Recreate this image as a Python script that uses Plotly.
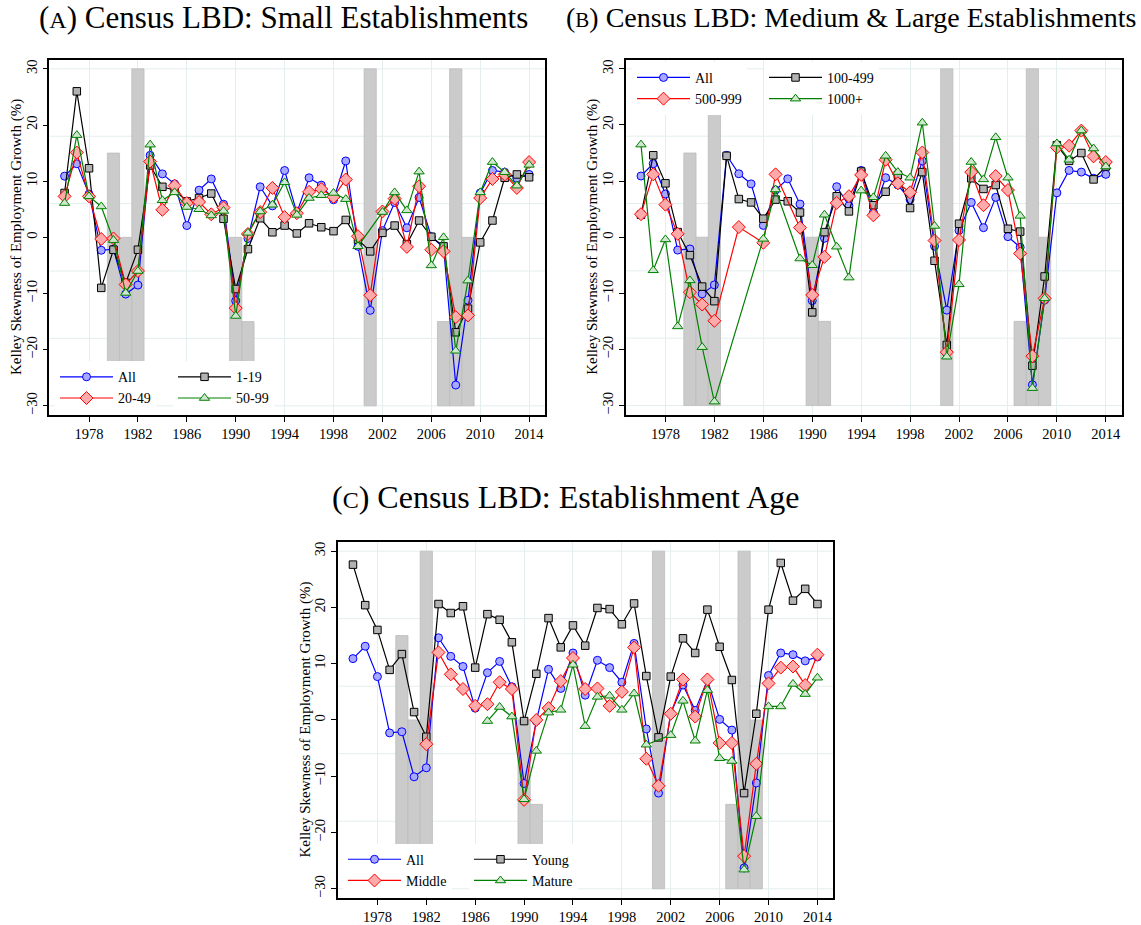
import plotly.graph_objects as go

# ---------------- data ----------------
years = list(range(1976, 2015))
tick_years = list(range(1978, 2015, 4))
y_ticks = [-30, -20, -10, 0, 10, 20, 30]
grid_y = [-30, -18, -6, 6, 18, 30]

recession_years = [1980, 1981, 1982, 1990, 1991, 2001, 2007, 2008, 2009]
recession_tops = [15, 0, 30, 0, -15, 30, -15, 30, 0]
recession_base = -30

all_est = [10.9, 13.1, 7.7, -2.3, -2.1, -10.1, -8.5, 14.6, 11.3, 9.5, 2.1, 8.4, 10.4, 5.9,
           -11.3, -0.2, 9.0, 5.6, 11.9, 4.4, 10.6, 9.3, 6.7, 13.6, -1.6, -13.0, 1.2, 6.2,
           1.7, 7.1, 0.1, -1.8, -26.3, -11.2, 7.9, 11.9, 11.6, 10.5, 11.2]

size_1_19 = [7.9, 26.0, 12.3, -9.0, -2.2, -8.1, -2.2, 12.8, 9.0, 8.4, 6.4, 7.0, 7.8, 3.3,
             -9.2, -2.1, 3.4, 0.9, 2.1, 0.7, 2.5, 1.8, 1.1, 3.1, -0.4, -2.5, 0.8, 2.1,
             -1.2, 3.0, 0.1, -1.6, -16.9, -12.7, -0.9, 3.0, 10.6, 11.2, 10.7]

size_20_49 = [7.3, 15.1, 7.3, -0.3, -0.2, -8.4, -6.0, 13.5, 4.9, 9.2, 6.1, 6.3, 4.1, 5.3,
              -12.6, 0.6, 4.5, 8.8, 3.6, 4.3, 8.1, 8.6, 7.2, 10.3, 0.2, -10.3, 4.6, 6.9,
              -1.7, 9.1, -2.2, -2.5, -14.2, -13.9, 7.0, 10.4, 11.2, 8.8, 13.4]

size_50_99 = [6.1, 18.2, 7.3, 5.5, -0.5, -9.9, -6.0, 16.5, 6.6, 8.0, 5.4, 5.0, 3.9, 4.7,
              -14.0, 0.8, 4.6, 5.8, 9.8, 4.0, 7.0, 7.5, 7.9, 6.8, -1.6, None, 4.5, 8.0,
              4.8, 11.7, -5.0, 0.0, -20.2, -7.7, 8.0, 13.4, 11.6, 9.2, 12.9]

size_100_499 = [4.0, 14.6, 9.6, 0.9, -3.2, -8.8, -11.4, 14.5, 6.8, 6.2, 3.3, 6.7, 6.4, 4.4,
                -13.4, 0.9, 7.3, 4.6, 11.7, 5.7, 8.1, 11.1, 5.2, 11.6, -4.2, -19.2, 2.4, 10.5,
                8.6, 9.3, 1.5, 1.0, -22.9, -7.0, 16.4, 13.6, 15.0, 10.3, 12.6]

size_500_999 = [4.1, 11.2, 5.8, 0.6, -9.8, -12.0, -14.9, None, 1.8, None, -1.0, 11.2, None, 1.7,
                -10.3, -3.5, 6.1, 7.3, 11.1, 3.9, 13.8, 9.6, 8.0, 15.1, -0.6, -20.5, -0.5, 11.6,
                5.7, 10.9, 8.4, -2.9, -21.2, -10.9, 16.0, 16.3, 19.0, 14.4, 13.4]

size_1000_plus = [16.5, -5.9, -0.4, -15.9, -7.7, -19.6, -29.3, None, None, None, -0.3, 8.5, None, -3.8,
                  -5.0, 4.0, -1.7, -7.2, 8.3, 7.1, 14.5, 11.6, 10.6, 20.4, 2.0, -21.3, -8.4, 13.4,
                  10.3, 17.8, 10.6, 3.8, -26.9, -10.9, 16.7, 13.8, 19.0, 15.8, 12.6]

age_young = [27.6, 20.4, 16.0, 8.9, 11.7, 1.4, -3.0, 20.6, 19.0, 20.2, 9.3, 18.8, 17.8, 13.8,
             -0.2, 8.2, 18.1, 12.9, 16.8, 13.2, 19.9, 19.7, 17.0, 20.7, 7.8, -3.1, 7.7, 14.5,
             11.9, 19.6, 13.0, 7.1, -13.0, 1.1, 19.6, 27.9, 21.2, 23.3, 20.6]

age_middle = [None, None, None, None, None, None, -4.3, 12.0, 8.1, 5.5, 2.5, 2.8, 6.7, 5.5,
              -14.2, 0.0, 2.1, 6.9, 11.0, 5.5, 5.6, 2.5, 5.0, 12.9, -6.9, -11.7, 1.1, 7.2,
              0.6, 7.2, -4.1, -4.1, -24.2, -7.8, 6.5, 9.3, 9.5, 6.2, 11.6]

age_mature = [None, None, None, None, None, None, None, None, None, None, None, -0.2, 2.3, 0.6,
              -14.1, -5.5, 1.3, 1.8, 9.8, -1.1, 4.1, 4.3, 1.8, 4.7, -4.4, None, -2.7, 3.4,
              -3.7, 5.3, -6.8, -7.3, -26.6, -17.1, 2.4, 2.4, 6.4, 4.6, 7.5]

panel_letters = ["A", "B", "C"]
panel_names = ["Census LBD: Small Establishments",
               "Census LBD: Medium & Large Establishments",
               "Census LBD: Establishment Age"]
y_title = "Kelley Skewness of Employment Growth (%)"

# ---------------- styles ----------------
SERIF = "Liberation Serif"
STY = {
    "blue": dict(color="#0000ff", symbol="circle", size=8, fill="#a8a8ff"),
    "black": dict(color="#000000", symbol="square", size=7.5, fill="#b2b2b2"),
    "red": dict(color="#ff0000", symbol="diamond", size=10, fill="#ffaaaa"),
    "green": dict(color="#008000", symbol="triangle-up", size=9, fill="#cfe6cf"),
}

W, H = 1141, 925
panels = [
    dict(x=(49.3, 545.0), y=(60.0, 416.0), ytitle_x=16.5, title=(283, 18, 31)),
    dict(x=(625.7, 1121.7), y=(60.0, 415.7), ytitle_x=592.5, title=(851, 18, 28)),
    dict(x=(337.7, 833.3), y=(543.3, 900.0), ytitle_x=305.5, title=(566, 498, 32)),
]

fig = go.Figure()
layout = dict(width=W, height=H, margin=dict(l=0, r=0, t=0, b=0),
              paper_bgcolor="white", plot_bgcolor="white", showlegend=True,
              barmode="overlay", annotations=[], shapes=[])

# (name, values, style, legend column)
series = [
    [("All", all_est, "blue", 0), ("1-19", size_1_19, "black", 1),
     ("20-49", size_20_49, "red", 0), ("50-99", size_50_99, "green", 1)],
    [("All", all_est, "blue", 0), ("100-499", size_100_499, "black", 1),
     ("500-999", size_500_999, "red", 0), ("1000+", size_1000_plus, "green", 1)],
    [("All", all_est, "blue", 0), ("Young", age_young, "black", 1),
     ("Middle", age_middle, "red", 0), ("Mature", age_mature, "green", 1)],
]

# legend geometry: (box top px, col1 left px, col2 left px)
leg_geo = [(362, 55, 173), (62, 632, 764), (845.5, 343, 469)]

for i, p in enumerate(panels):
    n = "" if i == 0 else str(i + 1)
    xa, ya = "x" + n, "y" + n
    xd = [p["x"][0] / W, p["x"][1] / W]
    yd = [1 - p["y"][1] / H, 1 - p["y"][0] / H]
    layout["xaxis" + n] = dict(
        domain=xd, anchor=ya, range=[1974.75, 2015.3], tickvals=tick_years,
        ticks="outside", ticklen=5, tickwidth=1, tickcolor="black",
        showline=True, linecolor="black", linewidth=1.5, mirror=True,
        showgrid=True, gridcolor="#e4eeee", gridwidth=1, zeroline=False,
        tickfont=dict(family=SERIF, size=14.5, color="black"))
    layout["yaxis" + n] = dict(
        domain=yd, anchor=xa, range=[-31.65, 31.6], tickvals=y_ticks, tickangle=-90,
        ticks="outside", ticklen=5, tickwidth=1, tickcolor="black",
        showline=True, linecolor="black", linewidth=1.5, mirror=True,
        showgrid=False, zeroline=False,
        tickfont=dict(family=SERIF, size=14.5, color="black"))
    # y-axis title
    layout["annotations"].append(dict(
        text=y_title, textangle=-90, x=p["ytitle_x"] / W, y=1 - (p["y"][0] + p["y"][1]) / 2 / H,
        xref="paper", yref="paper", xanchor="center", yanchor="middle", showarrow=False,
        font=dict(family=SERIF, size=15, color="black")))
    for g in grid_y:
        layout["shapes"].append(dict(type="line", xref=xa + " domain", x0=0, x1=1,
                                     yref=ya, y0=g, y1=g, layer="below",
                                     line=dict(color="#e4eeee", width=1)))
    # recession bars
    fig.add_trace(go.Bar(x=recession_years, y=[t - recession_base for t in recession_tops],
                         base=recession_base, width=1, xaxis=xa, yaxis=ya,
                         marker=dict(color="#cbcbcb", line=dict(color="#bcbcbc", width=0.8)),
                         showlegend=False, hoverinfo="skip"))
    top, c1, c2 = leg_geo[i]
    lg1 = "legend" if i == 0 else "legend" + str(2 * i + 1)
    lg2 = "legend" + str(2 * i + 2)
    for name, vals, key, col in series[i]:
        s = STY[key]
        fig.add_trace(go.Scatter(
            x=years, y=vals, name=name, mode="lines+markers", connectgaps=True,
            xaxis=xa, yaxis=ya, legend=lg1 if col == 0 else lg2,
            line=dict(color=s["color"], width=1.2),
            marker=dict(symbol=s["symbol"], size=s["size"], color=s["fill"],
                        line=dict(color=s["color"], width=1))))
    for lg, cx in ((lg1, c1), (lg2, c2)):
        layout[lg] = dict(x=cx / W, y=1 - top / H, xanchor="left", yanchor="top",
                          orientation="v", bgcolor="white", borderwidth=0,
                          font=dict(family=SERIF, size=14, color="black"),
                          itemwidth=53, traceorder="normal",
                          itemclick=False, itemdoubleclick=False)
    # panel title
    tx, ty, fs = p["title"]
    small = round(fs * 0.76)
    text = f"(<span style='font-size:{small}px'>{panel_letters[i]}</span>) {panel_names[i]}"
    layout["annotations"].append(dict(text=text, x=tx / W, y=1 - ty / H, xref="paper", yref="paper",
                                      xanchor="center", yanchor="middle", showarrow=False,
                                      font=dict(family=SERIF, size=fs, color="black")))

fig.update_layout(**layout)
fig.write_html("out.html", config={"displayModeBar": False},
               post_script="document.body.style.margin='0';")
